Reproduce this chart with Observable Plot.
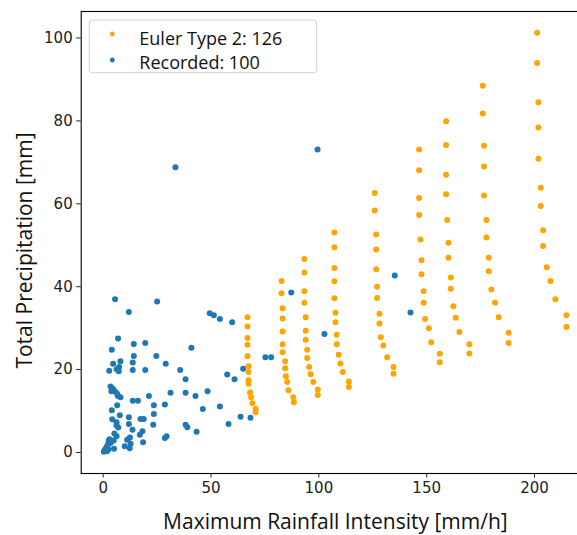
<!DOCTYPE html>
<html>
<head>
<meta charset="utf-8">
<script src="https://cdn.jsdelivr.net/npm/d3@7"></script>
<script src="https://cdn.jsdelivr.net/npm/@observablehq/plot@0.6"></script>
<style>
  body { margin: 0; background: #fff; }
  #chart { width: 577px; height: 535px; overflow: hidden; position: relative; }
</style>
</head>
<body>
<div id="chart"></div>
<script>
// Euler Type 2 design storms (9 return periods x 14 durations)
const eulerX = [
  66.9,66.9,66.9,66.9,66.9,67.4,67.4,67.4,67.4,68.1,68.6,69.2,70.7,70.7,
  82.7,82.7,83.2,83.2,83.2,83.2,83.2,84.4,84.4,84.7,85.3,85.9,88.1,88.4,
  93.3,93.3,93.3,93.3,93.9,93.9,93.9,94.6,94.6,95.5,96.2,97.4,99.5,99.5,
  107.2,107.2,107.2,107.2,107.2,107.7,107.7,108.3,108.3,109.2,110.0,111.1,113.9,113.9,
  125.9,125.9,126.6,126.6,126.6,127.0,127.0,128.1,128.1,128.7,129.9,131.7,134.6,134.6,
  146.5,146.5,146.5,146.5,147.1,147.6,147.6,148.6,148.6,149.3,151.0,152.1,156.1,156.1,
  159.0,159.0,159.0,159.0,159.5,160.1,160.1,161.2,161.2,162.4,163.5,165.2,169.8,169.8,
  176.0,176.0,176.6,176.6,176.6,177.7,177.7,178.8,178.8,180.0,181.7,183.4,188.0,188.0,
  201.2,201.2,201.8,201.8,201.8,202.9,202.9,204.0,204.0,205.7,207.4,209.7,214.8,214.8
];
const eulerY = [
  32.6,30.4,27.6,26.0,23.2,20.8,19.4,17.4,16.6,14.5,13.3,11.9,10.5,9.7,
  41.4,38.4,34.8,32.3,29.2,26.1,24.2,22.0,20.3,18.4,17.0,15.0,13.3,12.1,
  46.7,43.4,38.9,36.1,32.6,29.4,27.2,24.8,22.8,20.6,18.9,17.0,15.2,13.9,
  53.1,49.5,44.5,41.3,37.2,33.7,31.4,28.4,26.1,23.6,21.5,19.4,17.1,15.8,
  62.6,58.4,52.6,49.0,44.2,40.0,37.3,33.5,31.1,27.8,25.8,23.0,20.6,19.0,
  73.1,68.1,61.4,57.3,51.4,46.4,43.0,38.9,36.1,32.2,30.0,26.6,23.8,21.8,
  79.9,74.2,67.0,62.3,56.1,50.6,47.0,42.2,39.5,35.3,32.5,29.1,26.1,23.9,
  88.5,81.8,74.0,69.0,62.0,56.1,51.9,47.0,43.7,39.3,36.1,32.6,28.9,26.4,
  101.3,94.0,84.5,78.4,70.9,63.9,59.5,53.6,49.8,44.7,41.4,37.0,33.1,30.3
];
// Recorded events
const recX = [
  5.5,25.0,11.9,49.4,51.3,54.1,59.8,6.9,14.2,19.5,
  4.0,40.9,14.2,24.6,4.6,8.0,13.7,29.0,2.8,6.2,
  7.4,13.7,19.5,35.7,38.2,57.5,60.9,64.9,75.2,77.9,
  3.4,4.5,5.5,6.5,8.0,13.7,16.1,21.2,31.2,38.2,
  42.8,48.4,6.5,23.5,28.6,46.2,54.1,7.7,4.2,6.2,
  11.9,17.3,18.8,23.5,23.2,6.2,11.9,13.6,17.0,18.2,
  38.2,39.0,43.3,58.1,63.7,68.3,6.2,2.6,3.4,1.8,
  0.9,0.3,1.8,4.9,11.1,12.7,12.3,18.5,28.6,29.4,
  33.5,99.4,87.2,102.6,135.2,142.5,1.2,2.2,0.6,3.0,
  5.2,7.0,4.0,3.8,7.2,12.4,5.0,6.8,2.4,10.0
];
const recY = [
  37.0,36.4,33.9,33.6,33.1,32.2,31.4,27.5,26.2,26.4,
  24.8,25.3,23.3,23.3,21.4,22.0,21.7,21.4,19.7,20.1,
  20.6,19.9,19.9,19.9,17.7,18.8,17.7,20.2,23.0,23.0,
  15.9,15.4,14.7,14.2,13.3,12.5,12.5,13.6,14.4,14.4,
  13.6,14.8,11.4,11.4,11.6,10.5,11.1,9.0,8.0,7.3,
  8.5,8.1,8.1,9.3,6.7,6.5,6.9,5.5,4.3,5.1,
  6.7,6.1,5.0,6.9,8.6,8.4,3.9,2.9,2.3,1.5,
  0.6,0.2,0.3,2.9,3.1,2.1,1.0,2.5,3.5,3.9,
  68.8,73.1,38.6,28.6,42.7,33.8,1.0,1.9,0.4,3.2,
  4.6,6.0,10.2,14.8,19.6,3.6,0.9,13.6,0.7,1.5
];
const xTicks = [0, 50, 100, 150, 200];
const yTicks = [0, 20, 40, 60, 80, 100];
const seriesNames = ["Euler Type 2: 126", "Recorded: 100"];
const seriesColors = ["#ffa500", "#1f77b4"];
const xLabel = "Maximum Rainfall Intensity [mm/h]";
const yLabel = "Total Precipitation [mm]";

const euler = eulerX.map((x, i) => ({x, y: eulerY[i]}));
const recorded = recX.map((x, i) => ({x, y: recY[i]}));

// The axes extend slightly past the right edge of the visible picture (cropped figure)
const chart = Plot.plot({
  width: 589,
  height: 535,
  marginLeft: 80.7,
  marginRight: 0,
  marginTop: 11,
  marginBottom: 62,
  style: {fontFamily: "DejaVu Sans", fontSize: "15px", color: "#222", background: "#fff", maxWidth: "none"},
  x: {domain: [-10.2, 225.5], ticks: xTicks, label: null, tickSize: 4.5, tickPadding: 4},
  y: {domain: [-5.07, 106.4], ticks: yTicks, label: null, tickSize: 4.5, tickPadding: 4},
  marks: [
    Plot.dot(recorded, {x: "x", y: "y", r: 3, fill: seriesColors[1], stroke: "none"}),
    Plot.dot(euler, {x: "x", y: "y", r: 3, fill: seriesColors[0], stroke: "none"}),
    Plot.frame({stroke: "#000", strokeWidth: 1.1}),
    Plot.text([xLabel], {frameAnchor: "bottom", dy: 49, fontSize: 21, fontFamily: "Open Sans", fill: "#111", lineAnchor: "middle", textAnchor: "middle"}),
    Plot.text([yLabel], {frameAnchor: "left", dx: -56, dy: 8, rotate: -90, fontSize: 21, fontFamily: "Open Sans", fill: "#111", lineAnchor: "middle", textAnchor: "middle"})
  ]
});

// Legend (inside the axes, upper left)
const svg = d3.select(chart);
const lg = svg.append("g").attr("font-family", "Open Sans").attr("font-size", 18).attr("fill", "#111").attr("text-anchor", "start");
lg.append("rect").attr("x", 89.3).attr("y", 20).attr("width", 227.4).attr("height", 52.7)
  .attr("rx", 3).attr("fill", "rgba(255,255,255,0.8)").attr("stroke", "#d0d0d0").attr("stroke-width", 1);
seriesNames.forEach((name, i) => {
  lg.append("circle").attr("cx", 112.3).attr("cy", 34 + i * 26).attr("r", 2.4).attr("fill", seriesColors[i]);
  lg.append("text").attr("x", 139.3).attr("y", 45 + i * 23.5).attr("text-anchor", "start").text(name);
});

document.getElementById("chart").appendChild(chart);
</script>
</body>
</html>
